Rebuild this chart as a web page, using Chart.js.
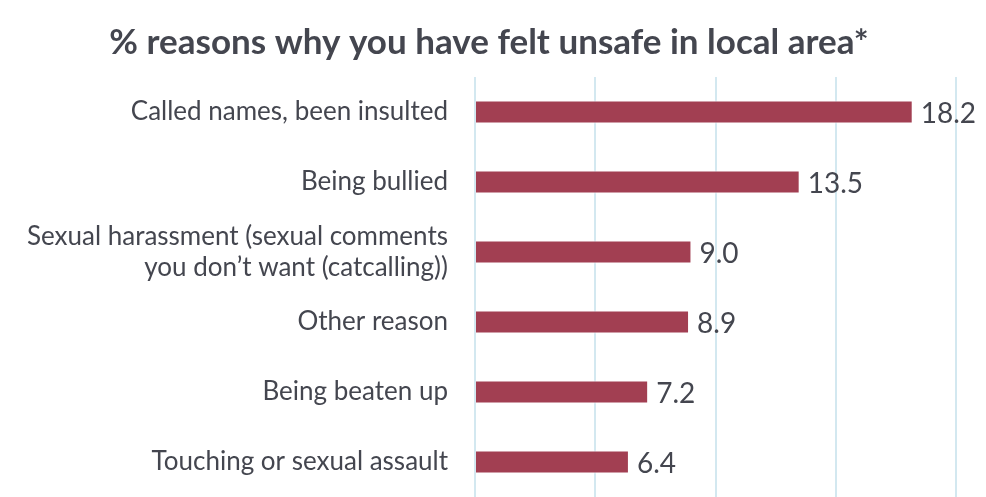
<!DOCTYPE html>
<html lang="en">
<head>
  <meta charset="UTF-8">
  <title>Reasons for feeling unsafe</title>
  <script src="https://cdn.jsdelivr.net/npm/chart.js"></script>
  <style>
    html, body { margin: 0; padding: 0; background: #fff; }
    #wrap { width: 986px; height: 497px; }
  </style>
</head>
<body>
  <div id="wrap"><canvas id="barChart"></canvas></div>

  <script>
    const reasons = [
      "Called names, been insulted",
      "Being bullied",
      ["Sexual harassment (sexual comments", "you don\u2019t want (catcalling))"],
      "Other reason",
      "Being beaten up",
      "Touching or sexual assault"
    ];
    const percents = [18.2, 13.5, 9.0, 8.9, 7.2, 6.4];

    const textColor = "#44464f";
    const barColor = "#a23f52";

    // writes each bar's value just past its end
    const valueLabels = {
      id: "valueLabels",
      afterDatasetsDraw(chart) {
        const ctx = chart.ctx;
        const meta = chart.getDatasetMeta(0);
        ctx.save();
        ctx.font = "28px Lato";
        ctx.fillStyle = textColor;
        ctx.textAlign = "left";
        ctx.textBaseline = "middle";
        meta.data.forEach((bar, i) => {
          ctx.fillText(percents[i].toFixed(1), bar.x + 8, bar.y + 2);
        });
        ctx.restore();
      }
    };

    new Chart(document.getElementById("barChart"), {
      type: "bar",
      data: {
        labels: reasons,
        datasets: [{
          data: percents,
          backgroundColor: barColor,
          borderColor: "#ffffff",
          borderWidth: { top: 1, bottom: 1, right: 1, left: 0 },
          barPercentage: 0.66,
          categoryPercentage: 0.5
        }]
      },
      options: {
        indexAxis: "y",
        responsive: true,
        maintainAspectRatio: false,
        animation: false,
        layout: { padding: { left: 22, right: 30, top: 0, bottom: 0 } },
        plugins: {
          legend: { display: false },
          tooltip: { enabled: false },
          title: {
            display: true,
            text: "% reasons why you have felt unsafe in local area*",
            color: textColor,
            font: { family: "Lato", size: 35, weight: "bold" },
            padding: { top: 22, bottom: 13 }
          }
        },
        scales: {
          x: {
            min: 0,
            max: 20,
            ticks: { display: false, stepSize: 5 },
            grid: { color: "#d3e8f0", lineWidth: 2, drawTicks: false },
            border: { display: false }
          },
          y: {
            ticks: {
              color: textColor,
              font: { family: "Lato", size: 26 },
              padding: 27
            },
            grid: { display: false, drawTicks: false },
            border: { display: false },
            // fixed label column; bars run to the bottom edge
            afterFit(scale) {
              scale.width = 453;
              scale.paddingTop = 0;
              scale.paddingBottom = 0;
            }
          }
        }
      },
      plugins: [valueLabels]
    });
  </script>
</body>
</html>
